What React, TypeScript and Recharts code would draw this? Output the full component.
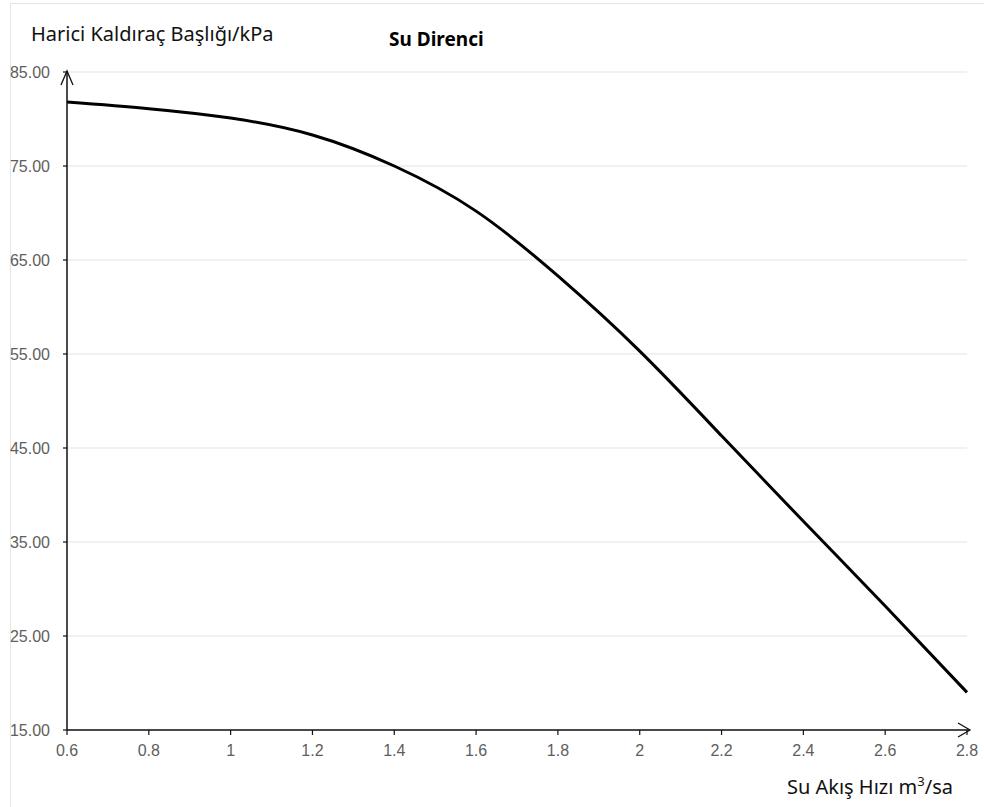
import { LineChart, Line, XAxis, YAxis, CartesianGrid } from 'recharts';

const flowRates = [0.6, 0.8, 1.0, 1.2, 1.4, 1.6, 1.8, 2.0, 2.2, 2.4, 2.6, 2.8];
const headKpa = [81.8, 81.1, 80.1, 78.3, 75.0, 70.2, 63.3, 55.3, 46.3, 37.2, 28.2, 19.0];
const xTicks = [0.6, 0.8, 1, 1.2, 1.4, 1.6, 1.8, 2, 2.2, 2.4, 2.6, 2.8];
const yTicks = [15, 25, 35, 45, 55, 65, 75, 85];

const chartTitle = 'Su Direnci';
const yTitle = 'Harici Kaldıraç Başlığı/kPa';
const xTitle = 'Su Akış Hızı m';

const data = flowRates.map((f, i) => ({ flow: f, head: headKpa[i] }));

const tickFont = { fontFamily: 'Liberation Sans, Arial, sans-serif', fontSize: 16, fill: '#5e5e5e' };

function YAxisDecor(props: any) {
    const vb = props.viewBox;
    const ax = vb.x + vb.width;
    const top = vb.y;
    return (
        <g>
            <line x1={ax} y1={top} x2={ax} y2={top - 1} stroke="#111" strokeWidth={1.5} />
            <polyline points={`${ax - 6},${top + 13} ${ax},${top - 1} ${ax + 6},${top + 13}`} fill="none" stroke="#111" strokeWidth={1.3} />
            <text x={31} y={top - 31} fontFamily="Noto Sans, sans-serif" fontSize={20} fill="#111">{yTitle}</text>
        </g>
    );
}

function XAxisDecor(props: any) {
    const vb = props.viewBox;
    const right = vb.x + vb.width;
    const ay = vb.y;
    return (
        <g>
            <line x1={right} y1={ay} x2={right + 3} y2={ay} stroke="#111" strokeWidth={1.5} />
            <polyline points={`${right - 9},${ay - 7} ${right + 3},${ay} ${right - 9},${ay + 7}`} fill="none" stroke="#111" strokeWidth={1.3} />
            <text x={right - 14} y={ay + 64} textAnchor="end" fontFamily="Noto Sans, sans-serif" fontSize={20} fill="#111">
                {xTitle}
                <tspan fontSize={13} dy={-8}>3</tspan>
                <tspan dy={8}>/sa</tspan>
            </text>
        </g>
    );
}

export default function App() {
    return (
        <div style={{ position: 'absolute', left: 0, top: 0, width: 984, height: 807, background: '#fff' }}>
            <div style={{ position: 'absolute', left: 10, top: 3, width: 974, height: 804, borderLeft: '1px solid #e6e6e6', borderTop: '1px solid #e6e6e6', boxSizing: 'border-box' }} />
            <div style={{ position: 'absolute', left: 0, top: 0 }}>
                <LineChart width={984} height={807} data={data} margin={{ top: 72, right: 17, bottom: 47, left: 0 }}>
                    <CartesianGrid horizontal vertical={false} stroke="#e4e4e4" strokeWidth={1.2} />
                    <XAxis
                        dataKey="flow"
                        type="number"
                        domain={[0.6, 2.8]}
                        ticks={xTicks}
                        interval={0}
                        height={30}
                        tickFormatter={(v: number) => String(Math.round(v * 10) / 10)}
                        tick={tickFont}
                        tickSize={5}
                        tickMargin={10}
                        axisLine={{ stroke: '#111', strokeWidth: 1.5 }}
                        tickLine={{ stroke: '#111', strokeWidth: 1.2 }}
                        label={<XAxisDecor />}
                    />
                    <YAxis
                        dataKey="head"
                        type="number"
                        domain={[15, 85]}
                        ticks={yTicks}
                        interval={0}
                        width={67}
                        tickFormatter={(v: number) => v.toFixed(2)}
                        tick={tickFont}
                        tickSize={4}
                        tickMargin={13}
                        axisLine={{ stroke: '#111', strokeWidth: 1.5 }}
                        tickLine={{ stroke: '#111', strokeWidth: 1.2 }}
                        label={<YAxisDecor />}
                    />
                    <Line
                        dataKey="head"
                        type="natural"
                        stroke="#000"
                        strokeWidth={3}
                        dot={false}
                        activeDot={false}
                        isAnimationActive={false}
                    />
                </LineChart>
            </div>
            <div style={{ position: 'absolute', left: 389, top: 26, fontFamily: 'Noto Sans, sans-serif', fontWeight: 'bold', fontSize: 19, color: '#000', whiteSpace: 'nowrap' }}>
                {chartTitle}
            </div>
        </div>
    );
}
